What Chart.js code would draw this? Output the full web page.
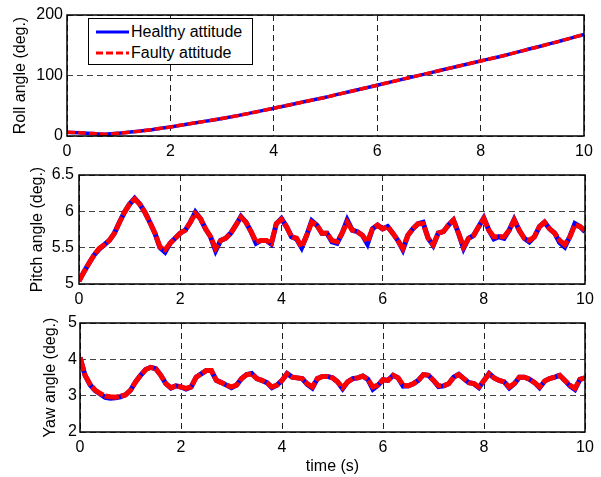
<!DOCTYPE html>
<html><head><meta charset="utf-8">
<script src="https://cdn.jsdelivr.net/npm/chart.js@4.4.0/dist/chart.umd.min.js"></script>
<style>
body{margin:0;background:#fff;width:601px;height:477px;overflow:hidden;position:relative;font-family:"Liberation Sans",Arial,sans-serif}
canvas{position:absolute;left:0}
#legend{position:absolute;left:88px;top:18px;width:165px;height:47px;border:1px solid #000;background:#fff;box-sizing:border-box;font-size:16px;line-height:18px;color:#000}
#legend .row{position:absolute;left:0;height:18px;width:100%}
#legend svg{position:absolute;left:7px;top:6px}
#legend span{position:absolute;left:42px;top:0;white-space:nowrap}
</style></head>
<body>
<canvas id="c1" width="601" height="160" style="top:0"></canvas>
<canvas id="c2" width="601" height="148" style="top:160px"></canvas>
<canvas id="c3" width="601" height="169" style="top:308px"></canvas>
<div id="legend">
  <div class="row" style="top:4px"><svg width="33" height="6"><line x1="0" y1="3" x2="33" y2="3" stroke="#0000ff" stroke-width="3"/></svg><span>Healthy attitude</span></div>
  <div class="row" style="top:25px"><svg width="33" height="6"><line x1="0" y1="3" x2="33" y2="3" stroke="#ff0000" stroke-width="3" stroke-dasharray="7,3"/></svg><span>Faulty attitude</span></div>
</div>
<script>
// ---- data ----
const seriesNames = ["Healthy attitude", "Faulty attitude"];
const rollTime = [0,0.25,0.5,0.75,1,1.5,2,2.5,3,3.5,4,4.5,5,5.5,6,6.5,7,7.5,8,8.5,9,9.5,10];
const rollHealthy = [6,5.5,4,3,4.5,9,15,22,29,37,46,55,64,74,84,94,104,114,124,134,145,156,168];
const rollFaulty  = [6,5.5,4,3,4.5,9,15,22,29,37,46,55,64,74,84,94,104,114,124,134,145,156,168];

const time = [0,0.1,0.2,0.3,0.4,0.5,0.6,0.7,0.8,0.9,1,1.1,1.2,1.3,1.4,1.5,1.6,1.7,1.8,1.9,2,2.1,2.2,2.3,2.4,2.5,2.6,2.7,2.8,2.9,3,3.1,3.2,3.3,3.4,3.5,3.6,3.7,3.8,3.9,4,4.1,4.2,4.3,4.4,4.5,4.6,4.7,4.8,4.9,5,5.1,5.2,5.3,5.4,5.5,5.6,5.7,5.8,5.9,6,6.1,6.2,6.3,6.4,6.5,6.6,6.7,6.8,6.9,7,7.1,7.2,7.3,7.4,7.5,7.6,7.7,7.8,7.9,8,8.1,8.2,8.3,8.4,8.5,8.6,8.7,8.8,8.9,9,9.1,9.2,9.3,9.4,9.5,9.6,9.7,9.8,9.9,10];

const pitchFaulty = [5.04,5.17,5.29,5.40,5.49,5.54,5.60,5.70,5.85,5.99,6.10,6.17,6.10,5.99,5.85,5.70,5.51,5.47,5.56,5.63,5.70,5.74,5.85,5.97,5.90,5.76,5.65,5.49,5.60,5.63,5.70,5.81,5.92,5.85,5.72,5.58,5.60,5.60,5.56,5.83,5.89,5.79,5.65,5.63,5.51,5.67,5.85,5.81,5.70,5.70,5.60,5.58,5.70,5.85,5.74,5.72,5.67,5.58,5.76,5.81,5.76,5.79,5.70,5.60,5.49,5.67,5.76,5.83,5.83,5.63,5.54,5.70,5.72,5.81,5.88,5.70,5.51,5.63,5.67,5.79,5.90,5.74,5.65,5.65,5.65,5.74,5.88,5.74,5.63,5.60,5.65,5.79,5.85,5.76,5.70,5.60,5.54,5.65,5.81,5.79,5.74];
const pitchHealthy = [5.04,5.17,5.29,5.40,5.48,5.54,5.60,5.70,5.85,5.99,6.10,6.18,6.10,5.99,5.85,5.70,5.50,5.44,5.56,5.63,5.70,5.74,5.85,5.99,5.90,5.76,5.65,5.46,5.60,5.63,5.70,5.81,5.93,5.85,5.72,5.56,5.60,5.60,5.55,5.83,5.90,5.79,5.65,5.62,5.50,5.67,5.87,5.81,5.70,5.70,5.58,5.56,5.70,5.88,5.74,5.72,5.67,5.55,5.76,5.81,5.76,5.79,5.70,5.60,5.47,5.67,5.76,5.83,5.85,5.63,5.53,5.70,5.72,5.81,5.88,5.70,5.49,5.63,5.67,5.79,5.91,5.74,5.62,5.65,5.63,5.74,5.89,5.74,5.63,5.58,5.65,5.79,5.85,5.76,5.70,5.57,5.51,5.65,5.83,5.79,5.72];

const yawFaulty = [4.05,3.56,3.31,3.15,3.06,2.99,2.97,2.96,2.99,3.02,3.15,3.38,3.56,3.72,3.78,3.74,3.56,3.33,3.22,3.27,3.24,3.20,3.24,3.51,3.60,3.69,3.69,3.42,3.36,3.29,3.24,3.29,3.47,3.58,3.60,3.47,3.42,3.36,3.24,3.29,3.42,3.60,3.51,3.49,3.47,3.33,3.24,3.47,3.53,3.53,3.49,3.38,3.22,3.38,3.47,3.49,3.54,3.45,3.24,3.29,3.44,3.42,3.56,3.49,3.29,3.27,3.33,3.42,3.58,3.56,3.42,3.27,3.27,3.33,3.51,3.58,3.47,3.36,3.33,3.24,3.42,3.60,3.49,3.42,3.38,3.24,3.33,3.51,3.51,3.45,3.36,3.24,3.40,3.47,3.51,3.56,3.42,3.29,3.20,3.45,3.49];
const yawHealthy = [4.05,3.56,3.30,3.14,3.05,2.95,2.93,2.94,2.97,3.02,3.15,3.38,3.56,3.72,3.78,3.74,3.56,3.33,3.21,3.27,3.24,3.18,3.24,3.51,3.60,3.69,3.69,3.42,3.36,3.29,3.22,3.29,3.47,3.58,3.61,3.47,3.42,3.36,3.22,3.29,3.42,3.61,3.51,3.49,3.47,3.31,3.21,3.47,3.53,3.53,3.49,3.38,3.19,3.38,3.47,3.49,3.54,3.45,3.18,3.29,3.44,3.42,3.56,3.49,3.26,3.27,3.33,3.42,3.58,3.56,3.42,3.25,3.27,3.33,3.51,3.59,3.47,3.36,3.33,3.22,3.42,3.61,3.49,3.42,3.38,3.21,3.33,3.51,3.51,3.45,3.36,3.22,3.40,3.47,3.51,3.56,3.42,3.27,3.17,3.45,3.49];

const xTicks = [0,2,4,6,8,10];
const rollTicks = [0,100,200];
const pitchTicks = [5,5.5,6,6.5];
const yawTicks = [2,3,4,5];

// ---- drawing ----
Chart.defaults.font.family = "'Liberation Sans', Arial, sans-serif";
Chart.defaults.font.size = 16;
Chart.defaults.color = '#000';

const framePlugin = {
  id: 'frame',
  afterDatasetsDraw(chart) {
    const a = chart.chartArea, ctx = chart.ctx;
    ctx.save();
    ctx.strokeStyle = '#000';
    ctx.lineWidth = 1.5;
    ctx.strokeRect(a.left, a.top, a.right - a.left, a.bottom - a.top);
    ctx.restore();
  }
};

function pts(xs, ys) { return xs.map((x, i) => ({x: x, y: ys[i]})); }

function make(id, cfg) {
  const yt = cfg.yTicks;
  return new Chart(document.getElementById(id), {
    type: 'line',
    data: {
      datasets: [
        { label: seriesNames[1], data: pts(cfg.xs, cfg.faulty), borderColor: '#ff0000', borderWidth: cfg.redW, borderDash: cfg.dash, pointRadius: 0, tension: cfg.tension, order: 0 },
        { label: seriesNames[0], data: pts(cfg.xs, cfg.healthy), borderColor: '#0000ff', borderWidth: cfg.blueW, pointRadius: 0, tension: cfg.tension, order: 1 }
      ]
    },
    options: {
      responsive: false,
      animation: false,
      devicePixelRatio: 1,
      layout: { padding: { top: 15, right: cfg.padRight, left: 0, bottom: 0 } },
      plugins: { legend: { display: false }, tooltip: { enabled: false } },
      scales: {
        x: {
          type: 'linear', min: 0, max: 10,
          afterBuildTicks: s => { s.ticks = xTicks.map(v => ({value: v})); },
          afterFit: s => { s.height = cfg.xH; },
          ticks: { padding: 6, maxRotation: 0, autoSkip: false, callback: v => String(v) },
          grid: { color: '#222', lineWidth: 1, drawTicks: false, borderDash: [6, 4] },
          border: { display: false, dash: [6, 4] },
          title: { display: !!cfg.xTitle, text: cfg.xTitle || '', padding: { top: 0, bottom: 1 }, font: { size: 16 } }
        },
        y: {
          type: 'linear', min: yt[0], max: yt[yt.length - 1],
          afterBuildTicks: s => { s.ticks = yt.map(v => ({value: v})); },
          afterFit: s => { s.width = cfg.yW; },
          ticks: { padding: cfg.yPad, autoSkip: false, callback: v => String(v) },
          grid: { color: '#444', lineWidth: 1, drawTicks: false, borderDash: [6, 4] },
          border: { display: false, dash: [6, 4] },
          title: { display: true, text: cfg.yTitle, padding: { top: cfg.yTitlePad, bottom: 0 }, font: { size: 16 } }
        }
      }
    },
    plugins: [framePlugin]
  });
}

make('c1', { xs: rollTime, healthy: rollHealthy, faulty: rollFaulty, yTicks: rollTicks, yTitle: 'Roll angle (deg.)',
  yW: 67, yPad: 4, yTitlePad: 11, xH: 24, padRight: 17, redW: 3.5, blueW: 3.5, dash: [8, 3], tension: 0.3 });
make('c2', { xs: time, healthy: pitchHealthy, faulty: pitchFaulty, yTicks: pitchTicks, yTitle: 'Pitch angle (deg.)',
  yW: 79, yPad: 5, yTitlePad: 28, xH: 24, padRight: 16, redW: 5, blueW: 5, dash: [14, 2], tension: 0 });
make('c3', { xs: time, healthy: yawHealthy, faulty: yawFaulty, yTicks: yawTicks, yTitle: 'Yaw angle (deg.)', xTitle: 'time (s)',
  yW: 80, yPad: 3, yTitlePad: 41, xH: 45, padRight: 16, redW: 5, blueW: 5, dash: [14, 2], tension: 0 });
</script>
</body></html>
